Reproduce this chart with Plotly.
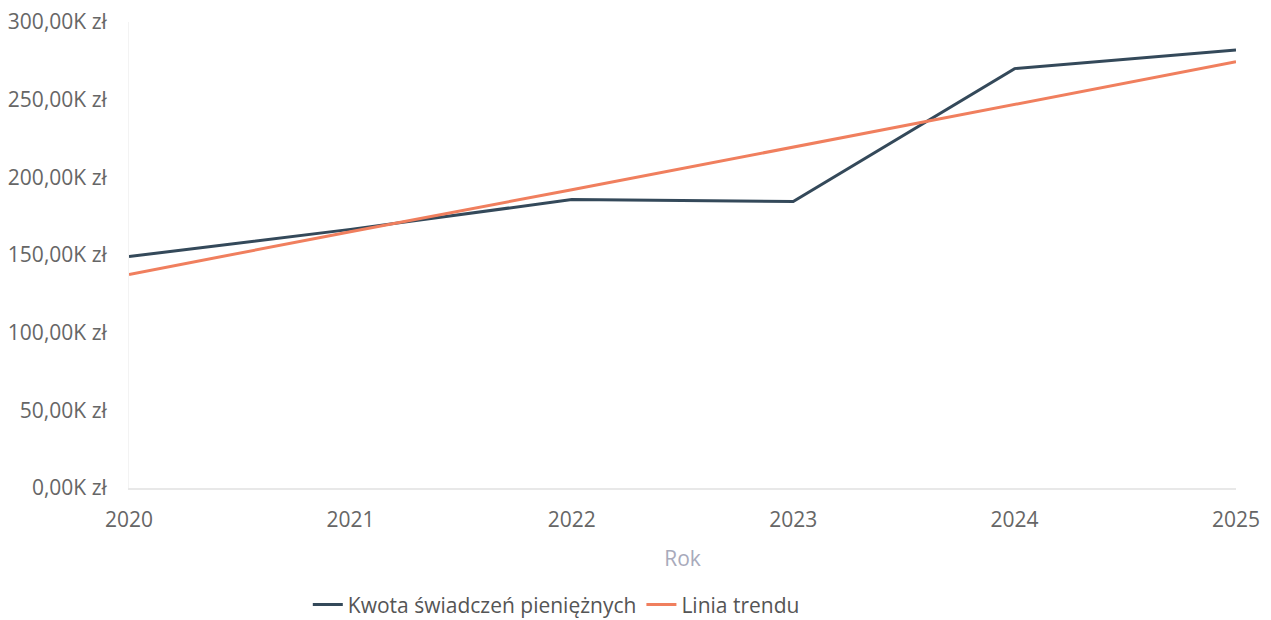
import plotly.graph_objects as go

years = [2020, 2021, 2022, 2023, 2024, 2025]
kwota = [149000, 166500, 185700, 184400, 270000, 282000]
trend = [137500, 165000, 192000, 219500, 247000, 274400]

y_ticks = [0, 50000, 100000, 150000, 200000, 250000, 300000]
y_labels = ["0,00K zł", "50,00K zł", "100,00K zł", "150,00K zł", "200,00K zł", "250,00K zł", "300,00K zł"]
x_labels = ["2020", "2021", "2022", "2023", "2024", "2025"]

fig = go.Figure()
fig.add_trace(go.Scatter(x=years, y=kwota, mode="lines", name="Kwota świadczeń pieniężnych",
                         line=dict(color="#34495a", width=3)))
fig.add_trace(go.Scatter(x=years, y=trend, mode="lines", name="Linia trendu",
                         line=dict(color="#f07f5e", width=3)))

fig.update_layout(
    width=1271, height=620,
    margin=dict(l=121, r=43, t=14, b=140, autoexpand=False),
    paper_bgcolor="white", plot_bgcolor="white",
    font=dict(family="Open Sans, sans-serif", size=21, color="#666666"),
    showlegend=True,
    legend=dict(orientation="h", x=0.386, xanchor="center", y=-0.251, yanchor="middle",
                font=dict(size=21, color="#555555"), itemwidth=30, tracegroupgap=0),
    xaxis=dict(range=[2020, 2025], tickvals=years, ticktext=x_labels, automargin=False,
               showgrid=False, zeroline=False, showline=True, linecolor="#e8e8e8", linewidth=2,
               ticks="", ticklabelstandoff=12, ticklabeloverflow="allow",
               tickfont=dict(size=21, color="#666666"),
               title=dict(text="Rok", font=dict(size=21, color="#a8aabb"), standoff=19)),
    yaxis=dict(range=[0, 300000], tickvals=y_ticks, ticktext=y_labels, automargin=False,
               showgrid=False, zeroline=False, showline=True, linecolor="#f3f3f3", linewidth=1,
               ticks="", ticklabelstandoff=17, ticklabeloverflow="allow",
               tickfont=dict(size=21, color="#666666")),
)

fig.write_html("out.html")
